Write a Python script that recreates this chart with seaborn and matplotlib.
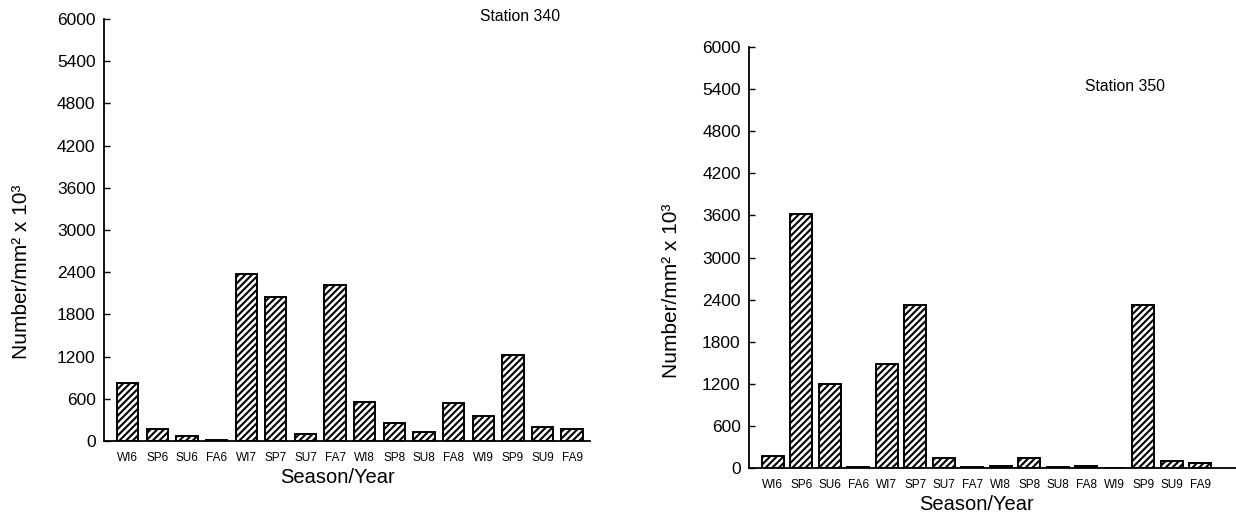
import matplotlib
matplotlib.use("Agg")
import matplotlib.pyplot as plt
import seaborn as sns
import pandas as pd

seasons = ["WI6", "SP6", "SU6", "FA6", "WI7", "SP7", "SU7", "FA7",
           "WI8", "SP8", "SU8", "FA8", "WI9", "SP9", "SU9", "FA9"]
station340 = [825, 170, 70, 15, 2375, 2045, 100, 2215,
              555, 255, 125, 540, 355, 1225, 200, 170]
station350 = [170, 3620, 1200, 10, 1480, 2320, 140, 15,
              30, 140, 20, 25, 5, 2320, 100, 70]
yticks = [0, 600, 1200, 1800, 2400, 3000, 3600, 4200, 4800, 5400, 6000]

sns.set_theme(style="white")
plt.rcParams["font.family"] = ["Liberation Sans", "DejaVu Sans"]
plt.rcParams["hatch.linewidth"] = 1.5
plt.rcParams["text.color"] = "black"
plt.rcParams["axes.labelcolor"] = "black"
plt.rcParams["xtick.color"] = "black"
plt.rcParams["ytick.color"] = "black"

fig = plt.figure(figsize=(12.36, 5.14), dpi=100)
ax1 = fig.add_axes([0.0841, 0.142, 0.3932, 0.821])
ax2 = fig.add_axes([0.606, 0.0895, 0.394, 0.819])

panels = [
    (ax1, station340, "Station 340", (0.856, 1.005), 0.72, (-0.8, 15.6), (-0.15, 0.40), (0.48, -0.065)),
    (ax2, station350, "Station 350", (0.772, 0.907), 0.77, (-0.84, 16.26), (-0.14, 0.42), (0.468, -0.065)),
]

for ax, vals, title, tpos, w, xl, ylc, xlc in panels:
    df = pd.DataFrame({"season": seasons, "value": vals})
    sns.barplot(data=df, x="season", y="value", ax=ax, color="white",
                edgecolor="black", linewidth=1.4, width=w, saturation=1)
    for p in ax.patches:
        p.set_hatch("/////")
        p.set_facecolor("white")
        p.set_edgecolor("black")
    ax.set_xlim(*xl)
    ax.set_ylim(0, 6000)
    ax.set_yticks(yticks)
    ax.set_yticklabels([str(t) for t in yticks], fontsize=12.5)
    ax.set_xticks(range(len(seasons)))
    ax.set_xticklabels(seasons, fontsize=8.5)
    ax.tick_params(axis="x", length=0, pad=8)
    ax.tick_params(axis="y", direction="in", length=4, width=1, color="black", pad=6, left=True)
    for s in ["top", "right"]:
        ax.spines[s].set_visible(False)
    for s in ["left", "bottom"]:
        ax.spines[s].set_color("black")
        ax.spines[s].set_linewidth(1.3)
    ax.set_ylabel("Number/mm² x 10³", fontsize=15)
    ax.set_xlabel("Season/Year", fontsize=14.5)
    ax.yaxis.set_label_coords(*ylc)
    ax.xaxis.set_label_coords(*xlc)
    ax.text(tpos[0], tpos[1], title, transform=ax.transAxes, ha="center",
            va="center", fontsize=11.3)

fig.savefig("out.png", dpi=100)
